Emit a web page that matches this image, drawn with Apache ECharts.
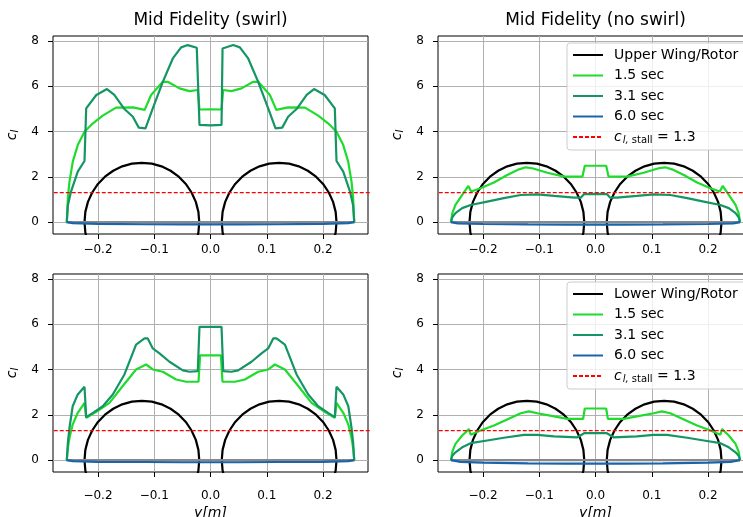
<!DOCTYPE html>
<html lang="en">
<head>
    <meta charset="UTF-8">
    <title>Mid Fidelity lift distribution</title>
    <script src="https://cdn.jsdelivr.net/npm/echarts@6.0.0/dist/echarts.min.js"></script>
    <style>
        html, body { margin: 0; padding: 0; background: #fff; }
    </style>
</head>
<body>
    <div id="main" style="width: 743px; height: 517px;"></div>
    <script type="text/javascript">
        // tick positions
        const xTicks = [-0.2, -0.1, 0.0, 0.1, 0.2];
        const yTicks = [0, 2, 4, 6, 8];

        // rotor outlines
        const leftRotor = [[-0.0261, -0.9], [-0.0215, -0.455], [-0.020, 0], [-0.0215, 0.455], [-0.0261, 0.896], [-0.0337, 1.31], [-0.0439, 1.685], [-0.0564, 2.007], [-0.071, 2.269], [-0.0871, 2.463], [-0.1043, 2.581], [-0.122, 2.62], [-0.1397, 2.581], [-0.1569, 2.463], [-0.173, 2.269], [-0.1876, 2.007], [-0.2001, 1.685], [-0.2103, 1.31], [-0.2179, 0.896], [-0.2225, 0.455], [-0.224, 0], [-0.2225, -0.455], [-0.2179, -0.9]];
        const rightRotor = [[0.0261, -0.9], [0.0215, -0.455], [0.020, 0], [0.0215, 0.455], [0.0261, 0.896], [0.0337, 1.31], [0.0439, 1.685], [0.0564, 2.007], [0.071, 2.269], [0.0871, 2.463], [0.1043, 2.581], [0.122, 2.62], [0.1397, 2.581], [0.1569, 2.463], [0.173, 2.269], [0.1876, 2.007], [0.2001, 1.685], [0.2103, 1.31], [0.2179, 0.896], [0.2225, 0.455], [0.224, 0], [0.2225, -0.455], [0.2179, -0.9]];

        const baseline = [[-0.257, 0], [0.257, 0]];
        const stallLine = [[-0.3, 1.3], [0.3, 1.3]];

        // Mid fidelity, swirl, upper wing
        const swirlUpper15 = [[-0.2555, 0], [-0.2535, 1.1], [-0.2507, 1.79], [-0.2448, 2.67], [-0.236, 3.40], [-0.224, 3.99], [-0.209, 4.36], [-0.1915, 4.70], [-0.168, 5.05], [-0.138, 5.06], [-0.117, 4.95], [-0.1056, 5.61], [-0.0848, 6.19], [-0.076, 6.19], [-0.0551, 5.90], [-0.0373, 5.78], [-0.0226, 5.83], [-0.0196, 4.97], [0, 4.98], [0.0196, 4.97], [0.0226, 5.83], [0.0373, 5.78], [0.0551, 5.90], [0.076, 6.19], [0.0848, 6.19], [0.1056, 5.61], [0.117, 4.95], [0.138, 5.06], [0.168, 5.05], [0.1915, 4.70], [0.209, 4.36], [0.224, 3.99], [0.236, 3.40], [0.2448, 2.67], [0.2507, 1.79], [0.2535, 1.1], [0.2555, 0]];
        const swirlUpper31 = [[-0.2555, 0], [-0.2535, 0.75], [-0.248, 1.35], [-0.236, 2.23], [-0.224, 2.70], [-0.221, 5.02], [-0.203, 5.61], [-0.184, 5.87], [-0.171, 5.61], [-0.153, 4.99], [-0.138, 4.65], [-0.1275, 4.17], [-0.1156, 4.14], [-0.1026, 5.02], [-0.0848, 6.19], [-0.067, 7.22], [-0.0522, 7.71], [-0.0404, 7.81], [-0.0244, 7.69], [-0.0214, 7.66], [-0.0196, 4.29], [0, 4.27], [0.0196, 4.29], [0.0214, 7.66], [0.0244, 7.69], [0.0404, 7.81], [0.0522, 7.71], [0.067, 7.22], [0.0848, 6.19], [0.1026, 5.02], [0.1156, 4.14], [0.1275, 4.17], [0.138, 4.65], [0.153, 4.99], [0.171, 5.61], [0.184, 5.87], [0.203, 5.61], [0.221, 5.02], [0.224, 2.70], [0.236, 2.23], [0.248, 1.35], [0.2535, 0.75], [0.2555, 0]];
        const swirlUpper60 = [[-0.2555, 0], [-0.245, -0.04], [-0.2, -0.07], [-0.12, -0.09], [-0.05, -0.1], [0, -0.1], [0.05, -0.1], [0.12, -0.09], [0.2, -0.07], [0.245, -0.04], [0.2555, 0]];

        // Mid fidelity, no swirl, upper wing
        const noSwirlUpper15 = [[-0.257, 0], [-0.2545, 0.4], [-0.249, 0.76], [-0.237, 1.20], [-0.226, 1.60], [-0.221, 1.35], [-0.2044, 1.50], [-0.1806, 1.75], [-0.157, 2.08], [-0.136, 2.33], [-0.124, 2.42], [-0.1123, 2.38], [-0.0856, 2.18], [-0.0558, 2.01], [-0.0232, 2.01], [-0.019, 2.49], [0, 2.49], [0.019, 2.49], [0.0232, 2.01], [0.0558, 2.01], [0.0856, 2.18], [0.1123, 2.38], [0.124, 2.42], [0.136, 2.33], [0.157, 2.08], [0.1806, 1.75], [0.2044, 1.50], [0.221, 1.35], [0.226, 1.60], [0.237, 1.20], [0.249, 0.76], [0.2545, 0.4], [0.257, 0]];
        const noSwirlUpper31 = [[-0.257, 0], [-0.2545, 0.22], [-0.249, 0.40], [-0.237, 0.62], [-0.222, 0.76], [-0.1925, 0.91], [-0.163, 1.06], [-0.133, 1.20], [-0.1034, 1.23], [-0.0736, 1.16], [-0.038, 1.08], [-0.0262, 1.08], [-0.0202, 1.24], [0, 1.25], [0.0202, 1.24], [0.0262, 1.08], [0.038, 1.08], [0.0736, 1.16], [0.1034, 1.23], [0.133, 1.20], [0.163, 1.06], [0.1925, 0.91], [0.222, 0.76], [0.237, 0.62], [0.249, 0.40], [0.2545, 0.22], [0.257, 0]];
        const noSwirlUpper60 = [[-0.257, 0], [-0.245, -0.05], [-0.2, -0.08], [-0.12, -0.1], [-0.05, -0.11], [0, -0.11], [0.05, -0.11], [0.12, -0.1], [0.2, -0.08], [0.245, -0.05], [0.257, 0]];

        // Mid fidelity, swirl, lower wing
        const swirlLower15 = [[-0.2555, 0], [-0.2535, 0.55], [-0.2507, 0.99], [-0.245, 1.57], [-0.236, 2.09], [-0.224, 2.53], [-0.221, 1.87], [-0.203, 2.13], [-0.1796, 2.53], [-0.156, 3.27], [-0.1323, 4.0], [-0.1145, 4.22], [-0.1026, 4.0], [-0.0848, 3.90], [-0.0611, 3.56], [-0.0434, 3.46], [-0.0213, 3.46], [-0.0185, 4.62], [0, 4.62], [0.0185, 4.62], [0.0213, 3.46], [0.0434, 3.46], [0.0611, 3.56], [0.0848, 3.90], [0.1026, 4.0], [0.1145, 4.22], [0.1323, 4.0], [0.156, 3.27], [0.1796, 2.53], [0.203, 2.13], [0.221, 1.87], [0.224, 2.53], [0.236, 2.09], [0.245, 1.57], [0.2507, 0.99], [0.2535, 0.55], [0.2555, 0]];
        const swirlLower31 = [[-0.2555, 0], [-0.2535, 0.8], [-0.2507, 1.43], [-0.245, 2.38], [-0.236, 2.90], [-0.224, 3.24], [-0.221, 1.90], [-0.209, 2.09], [-0.1915, 2.38], [-0.1737, 2.90], [-0.153, 3.78], [-0.1323, 5.10], [-0.1173, 5.37], [-0.1115, 5.37], [-0.1026, 4.93], [-0.0907, 4.71], [-0.0729, 4.34], [-0.0492, 3.96], [-0.0373, 3.90], [-0.0226, 3.93], [-0.0196, 5.88], [0, 5.88], [0.0196, 5.88], [0.0226, 3.93], [0.0373, 3.90], [0.0492, 3.96], [0.0729, 4.34], [0.0907, 4.71], [0.1026, 4.93], [0.1115, 5.37], [0.1173, 5.37], [0.1323, 5.10], [0.153, 3.78], [0.1737, 2.90], [0.1915, 2.38], [0.209, 2.09], [0.221, 1.90], [0.224, 3.24], [0.236, 2.90], [0.245, 2.38], [0.2507, 1.43], [0.2535, 0.8], [0.2555, 0]];
        const swirlLower60 = [[-0.2555, 0], [-0.245, -0.04], [-0.2, -0.07], [-0.12, -0.08], [-0.05, -0.09], [0, -0.09], [0.05, -0.09], [0.12, -0.08], [0.2, -0.07], [0.245, -0.04], [0.2555, 0]];

        // Mid fidelity, no swirl, lower wing
        const noSwirlLower15 = [[-0.257, 0], [-0.2545, 0.38], [-0.249, 0.72], [-0.237, 1.09], [-0.225, 1.37], [-0.222, 1.12], [-0.2044, 1.31], [-0.1806, 1.53], [-0.157, 1.80], [-0.133, 2.07], [-0.118, 2.15], [-0.1034, 2.07], [-0.0736, 1.93], [-0.050, 1.82], [-0.022, 1.82], [-0.019, 2.28], [0, 2.28], [0.019, 2.28], [0.022, 1.82], [0.050, 1.82], [0.0736, 1.93], [0.1034, 2.07], [0.118, 2.15], [0.133, 2.07], [0.157, 1.80], [0.1806, 1.53], [0.2044, 1.31], [0.222, 1.12], [0.225, 1.37], [0.237, 1.09], [0.249, 0.72], [0.2545, 0.38], [0.257, 0]];
        const noSwirlLower31 = [[-0.257, 0], [-0.2545, 0.2], [-0.249, 0.35], [-0.237, 0.57], [-0.222, 0.75], [-0.1925, 0.87], [-0.163, 0.99], [-0.127, 1.12], [-0.1034, 1.12], [-0.0736, 1.05], [-0.0321, 1.01], [-0.0202, 1.19], [0, 1.19], [0.0202, 1.19], [0.0321, 1.01], [0.0736, 1.05], [0.1034, 1.12], [0.127, 1.12], [0.163, 0.99], [0.1925, 0.87], [0.222, 0.75], [0.237, 0.57], [0.249, 0.35], [0.2545, 0.2], [0.257, 0]];
        const noSwirlLower60 = [[-0.257, 0], [-0.24, -0.07], [-0.2, -0.11], [-0.12, -0.14], [-0.05, -0.15], [0, -0.15], [0.05, -0.15], [0.12, -0.14], [0.2, -0.11], [0.24, -0.07], [0.257, 0]];

        const FONT = 'DejaVu Sans';
        const C15 = '#1edb2c';
        const C31 = '#149664';
        const C60 = '#1964aa';

        let myChart = echarts.init(document.getElementById('main'), null, { renderer: 'canvas' });

        // one grid per subplot
        const panels = [
            { left: 53, top: 36, rotor: 'Upper Wing/Rotor', d15: swirlUpper15, d31: swirlUpper31, d60: swirlUpper60, xName: false },
            { left: 438, top: 36, rotor: 'Upper Wing/Rotor', d15: noSwirlUpper15, d31: noSwirlUpper31, d60: noSwirlUpper60, xName: false },
            { left: 53, top: 274, rotor: 'Lower Wing/Rotor', d15: swirlLower15, d31: swirlLower31, d60: swirlLower60, xName: true },
            { left: 438, top: 274, rotor: 'Lower Wing/Rotor', d15: noSwirlLower15, d31: noSwirlLower31, d60: noSwirlLower60, xName: true }
        ];

        const grids = [], xAxes = [], yAxes = [], series = [];

        function line(i, name, data, color, width, type) {
            return {
                name: name, type: 'line', xAxisIndex: i, yAxisIndex: i,
                data: data, symbol: 'none', showSymbol: false, clip: true,
                silent: true, animation: false,
                lineStyle: { color: color, width: width, type: type || 'solid' },
                itemStyle: { color: color }
            };
        }

        panels.forEach((p, i) => {
            grids.push({
                left: p.left, top: p.top, width: 315, height: 198,
                outerBoundsMode: 'none', containLabel: false,
                show: true, borderColor: '#000', borderWidth: 1, backgroundColor: 'transparent'
            });
            xAxes.push({
                type: 'value', gridIndex: i, min: -0.28, max: 0.28,
                axisLine: { show: false, onZero: false },
                axisTick: { show: true, inside: false, length: 5, lineStyle: { color: '#000' }, customValues: xTicks },
                axisLabel: {
                    customValues: xTicks, margin: p.xName ? 18 : 10, fontSize: 12, color: '#000', fontFamily: FONT,
                    formatter: (v) => (v < -1e-9 ? '\u2212' : '') + Math.abs(v).toFixed(1)
                },
                splitLine: { show: true, lineStyle: { color: '#b0b0b0', width: 1 } },
                name: p.xName ? 'y[m]' : '', nameLocation: 'middle', nameGap: 34,
                nameTextStyle: { fontSize: 14, fontStyle: 'italic', color: '#000', fontFamily: FONT }
            });
            yAxes.push({
                type: 'value', gridIndex: i, min: -0.52, max: 8.21,
                axisLine: { show: false, onZero: false },
                axisTick: { show: true, inside: false, length: 5, lineStyle: { color: '#000' }, customValues: yTicks },
                axisLabel: { customValues: yTicks, margin: 14, fontSize: 12, color: '#000', fontFamily: FONT },
                splitLine: { show: true, lineStyle: { color: '#b0b0b0', width: 1 } },
                name: '{i|c}{s|l}', nameLocation: 'middle', nameGap: 33, nameRotate: 90,
                nameTextStyle: {
                    color: '#000', fontFamily: FONT,
                    rich: {
                        i: { fontSize: 14, fontStyle: 'italic', fontFamily: FONT, color: '#000' },
                        s: { fontSize: 10, fontStyle: 'italic', fontFamily: FONT, color: '#000', padding: [6, 0, 0, 0] }
                    }
                }
            });
            series.push(line(i, p.rotor, leftRotor, '#000', 2.2));
            series.push(line(i, p.rotor, rightRotor, '#000', 2.2));
            series.push(line(i, 'baseline', baseline, '#888888', 2.2));
            series.push(line(i, '1.5 sec', p.d15, C15, 2.2));
            series.push(line(i, '3.1 sec', p.d31, C31, 2.2));
            series.push(line(i, '6.0 sec', p.d60, C60, 2.2));
            series.push(line(i, 'stall', stallLine, '#ff0000', 1.2, [4, 2]));
        });

        function legendFor(top, rotorName) {
            return {
                orient: 'vertical', left: 567, top: top,
                padding: [5, 20, 5, 5], itemGap: 6.5, itemWidth: 30, itemHeight: 14,
                backgroundColor: 'rgba(255,255,255,0.8)', borderColor: '#cccccc', borderWidth: 1, borderRadius: 3,
                selectedMode: false,
                // line handles only, no marker
                itemStyle: { color: 'rgba(0,0,0,0)', borderColor: 'rgba(0,0,0,0)', borderWidth: 0, opacity: 0 },
                data: [rotorName, '1.5 sec', '3.1 sec', '6.0 sec', 'stall'],
                formatter: (name) => name === 'stall' ? '{i|c}{si|l,}{s| stall}{n| = 1.3}' : name,
                textStyle: {
                    fontSize: 14, fontFamily: FONT, color: '#000', padding: [0, 0, 0, 6],
                    rich: {
                        i: { fontSize: 14, fontStyle: 'italic', fontFamily: FONT, color: '#000' },
                        si: { fontSize: 10, fontStyle: 'italic', fontFamily: FONT, color: '#000', padding: [6, 0, 0, 1] },
                        s: { fontSize: 10, fontFamily: FONT, color: '#000', padding: [6, 0, 0, 0] },
                        n: { fontSize: 14, fontFamily: FONT, color: '#000' }
                    }
                }
            };
        }

        let options = {
            animation: false,
            title: [
                { text: 'Mid Fidelity (swirl)', left: 210.5, top: 12, textAlign: 'center', padding: 0,
                  textStyle: { fontSize: 17, fontWeight: 'normal', color: '#000', fontFamily: FONT } },
                { text: 'Mid Fidelity (no swirl)', left: 595.5, top: 12, textAlign: 'center', padding: 0,
                  textStyle: { fontSize: 17, fontWeight: 'normal', color: '#000', fontFamily: FONT } }
            ],
            legend: [legendFor(43, 'Upper Wing/Rotor'), legendFor(282, 'Lower Wing/Rotor')],
            grid: grids,
            xAxis: xAxes,
            yAxis: yAxes,
            series: series
        };

        myChart.setOption(options);
    </script>
</body>
</html>
